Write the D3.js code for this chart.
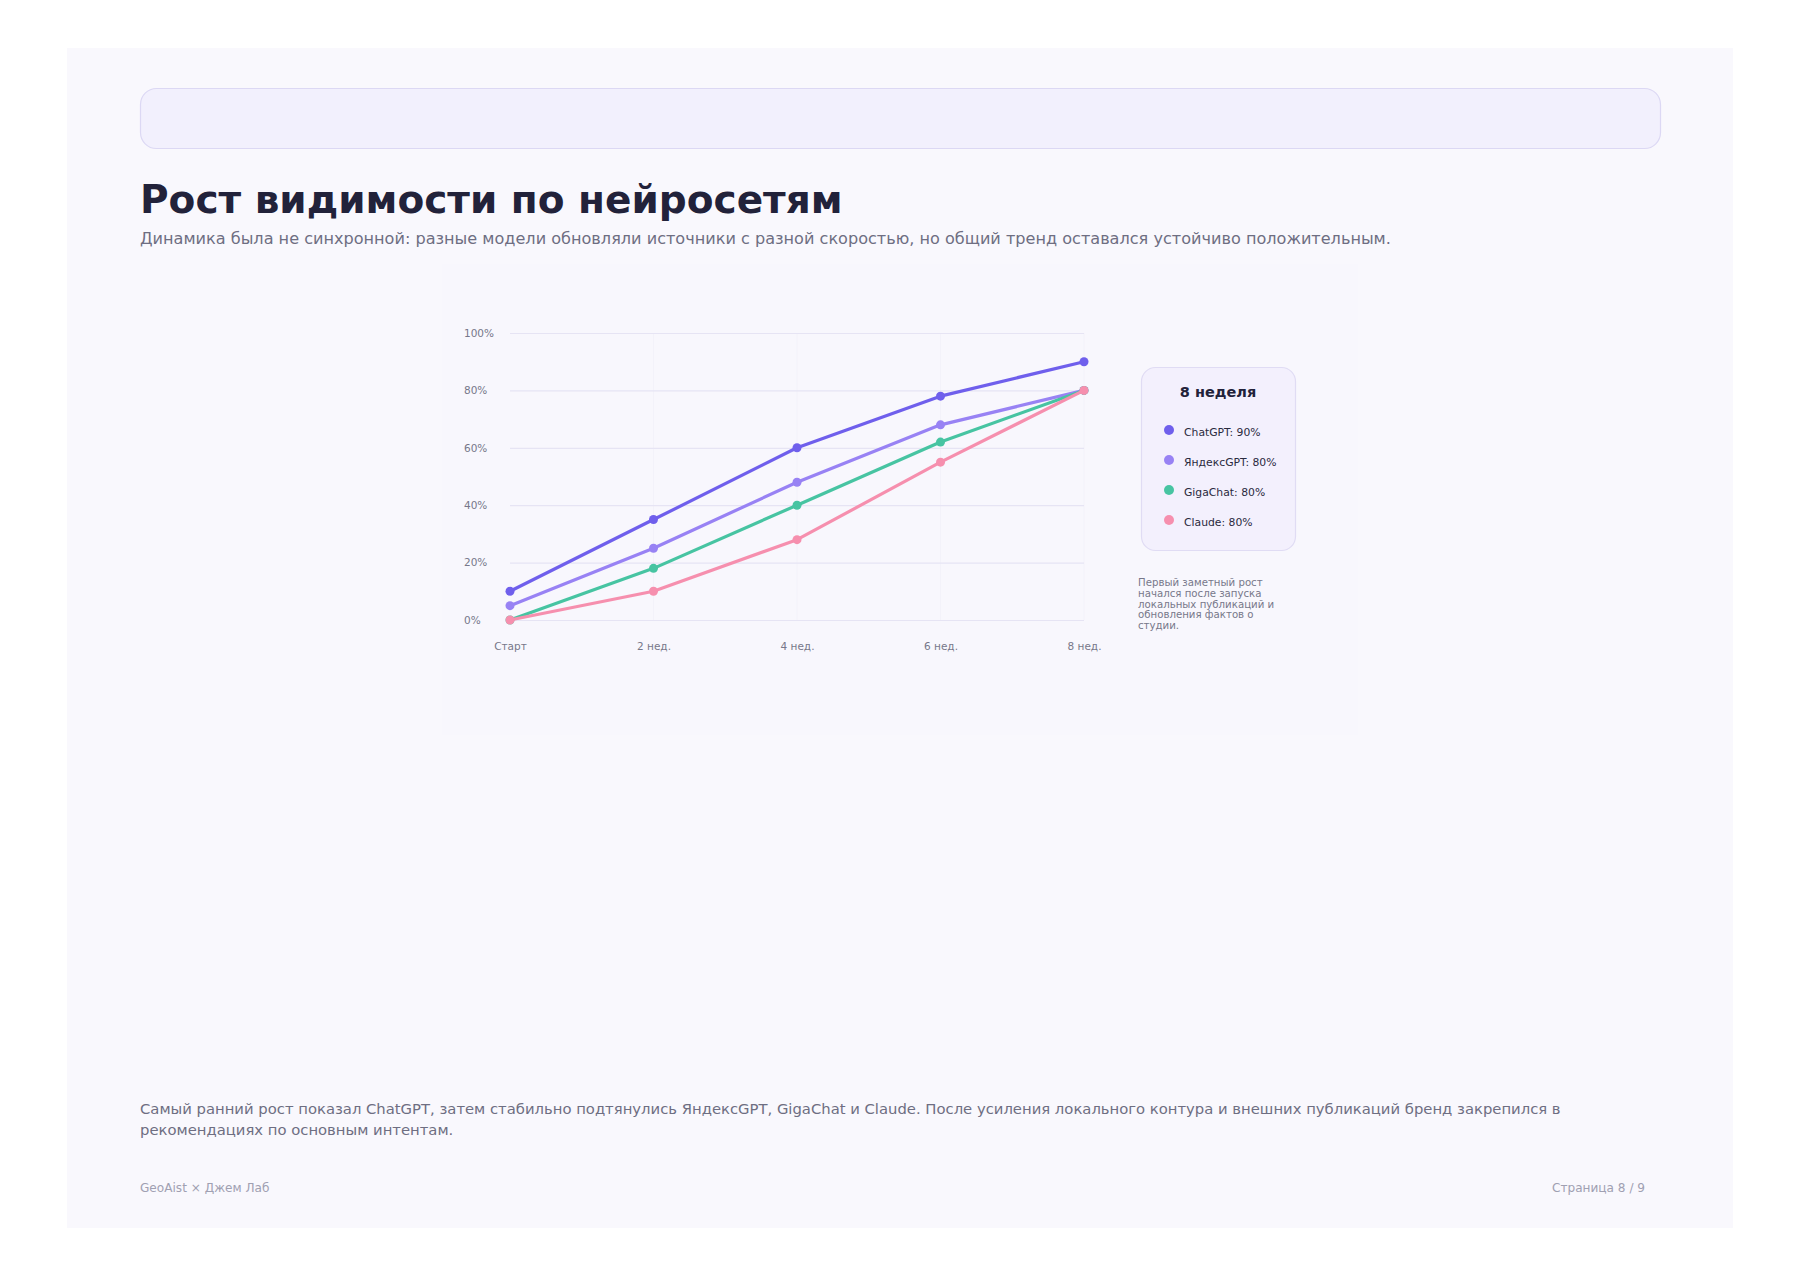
<!DOCTYPE html>
<html><head><meta charset="utf-8">
<script src="https://cdn.jsdelivr.net/npm/d3@7"></script>
<style>
html,body{margin:0;padding:0;background:#ffffff;}
svg{display:block;font-family:"DejaVu Sans",sans-serif;}
</style></head>
<body><svg id="c" width="1800" height="1273"></svg>
<script>
const categories = ["Старт","2 нед.","4 нед.","6 нед.","8 нед."];
const seriesNames = ["ChatGPT","ЯндексGPT","GigaChat","Claude"];
const chatgpt = [10,35,60,78,90];
const yandexgpt = [5,25,48,68,80];
const gigachat = [0,18,40,62,80];
const claude = [0,10,28,55,80];
const yTicks = [0,20,40,60,80,100];
const seriesColors = ["#6f5fec","#9882f4","#47c4a2","#f68fae"];
const titleText = "Рост видимости по нейросетям";
const subtitleText = "Динамика была не синхронной: разные модели обновляли источники с разной скоростью, но общий тренд оставался устойчиво положительным.";
const legendTitle = "8 неделя";
const noteLines = ["Первый заметный рост","начался после запуска","локальных публикаций и","обновления фактов о","студии."];
const bottomLines = ["Самый ранний рост показал ChatGPT, затем стабильно подтянулись ЯндексGPT, GigaChat и Claude. После усиления локального контура и внешних публикаций бренд закрепился в","рекомендациях по основным интентам."];
const footerLeft = "GeoAist × Джем Лаб";
const footerRight = "Страница 8 / 9";

const series = [chatgpt,yandexgpt,gigachat,claude].map((v,i)=>({name:seriesNames[i],values:v,color:seriesColors[i]}));

const svg = d3.select("#c");
// page card
svg.append("rect").attr("x",67).attr("y",48).attr("width",1666).attr("height",1180).attr("fill","#f9f8fd");
// top bar
svg.append("rect").attr("x",140.5).attr("y",88.5).attr("width",1520).attr("height",60).attr("rx",16)
  .attr("fill","#f2f0fd").attr("stroke","#dcd8f4").attr("stroke-width",1.2);
// title
svg.append("text").attr("x",140).attr("y",213).attr("font-size",39).attr("font-weight","bold").attr("fill","#22223a").text(titleText);
svg.append("text").attr("x",140).attr("y",244).attr("font-size",16.1).attr("fill","#6e6e82").text(subtitleText);

// chart panel
svg.append("rect").attr("x",442).attr("y",264).attr("width",916).attr("height",471).attr("fill","#f8f7fd");

const x = d3.scalePoint().domain(categories).range([510,1084]);
const y = d3.scaleLinear().domain([0,100]).range([620,333]);

const g = svg.append("g");
// vertical faint grid
g.selectAll("line.v").data(categories.slice(1)).join("line").attr("class","v")
  .attr("x1",d=>x(d)).attr("x2",d=>x(d)).attr("y1",y(100)).attr("y2",y(0))
  .attr("stroke","#f3f2fa").attr("stroke-width",1);
// horizontal grid
const yAxis = d3.axisLeft(y).tickValues(yTicks).tickFormat(d=>d+"%").tickSize(-(1084-510));
const ya = g.append("g").attr("transform","translate(510,0)").call(yAxis);
ya.select(".domain").remove();
ya.selectAll(".tick line").attr("stroke","#e6e4f4").attr("stroke-width",1.2);
ya.selectAll(".tick text").attr("x",-46).attr("text-anchor","start").attr("font-size",10.5)
  .attr("fill","#77778a").attr("font-family","DejaVu Sans");

const xAxis = d3.axisBottom(x).tickSize(0).tickPadding(0);
const xa = g.append("g").attr("transform","translate(0,650)").call(xAxis);
xa.select(".domain").remove();
xa.selectAll(".tick text").attr("font-size",10.5).attr("fill","#77778a").attr("font-family","DejaVu Sans").attr("dy","0");

const line = d3.line().x((d,i)=>x(categories[i])).y(d=>y(d));
const sg = g.selectAll("g.s").data(series).join("g").attr("class","s");
sg.append("path").attr("d",d=>line(d.values)).attr("fill","none").attr("stroke",d=>d.color).attr("stroke-width",3.2).attr("stroke-linejoin","round").attr("stroke-linecap","round");
sg.selectAll("circle").data(d=>d.values.map((v,i)=>({v,i,c:d.color}))).join("circle")
  .attr("cx",d=>x(categories[d.i])).attr("cy",d=>y(d.v)).attr("r",4.5).attr("fill",d=>d.c);

// legend box
svg.append("rect").attr("x",1141.5).attr("y",367.5).attr("width",154).attr("height",183).attr("rx",14)
  .attr("fill","#f3f0fd").attr("stroke","#e0dcf4").attr("stroke-width",1.2);
svg.append("text").attr("x",1218).attr("y",397).attr("text-anchor","middle").attr("font-size",14.5).attr("font-weight","bold").attr("fill","#22223a").text(legendTitle);
const last = categories.length-1;
const li = svg.selectAll("g.li").data(series).join("g").attr("class","li")
  .attr("transform",(d,i)=>`translate(1169,${430+i*30})`);
li.append("circle").attr("r",5).attr("fill",d=>d.color);
li.append("text").attr("x",15).attr("y",6).attr("font-size",10.8).attr("fill","#2a2a3e").text(d=>`${d.name}: ${d.values[last]}%`);

// note
svg.append("text").attr("x",1138).attr("y",586).attr("font-size",10.2).attr("fill","#77778a")
  .selectAll("tspan").data(noteLines).join("tspan").attr("x",1138).attr("dy",(d,i)=>i?10.8:0).text(d=>d);

// bottom text
svg.append("text").attr("font-size",14.8).attr("fill","#6e6e82")
  .selectAll("tspan").data(bottomLines).join("tspan").attr("x",140).attr("y",(d,i)=>1114+i*21).text(d=>d);
svg.append("text").attr("x",140).attr("y",1192).attr("font-size",12.1).attr("fill","#a0a0b2").text(footerLeft);
svg.append("text").attr("x",1645).attr("y",1192).attr("text-anchor","end").attr("font-size",12.1).attr("fill","#a0a0b2").text(footerRight);
</script></body></html>
